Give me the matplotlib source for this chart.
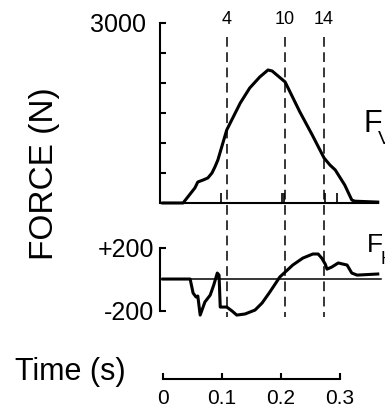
import matplotlib
matplotlib.use("Agg")
import matplotlib.pyplot as plt
from matplotlib.transforms import blended_transform_factory

plt.rcParams['font.family'] = ['Liberation Sans', 'DejaVu Sans']
plt.rcParams['lines.scale_dashes'] = False

# ---- data ----
# vertical ground reaction force (N) vs time (s)
fv_time = [0.0, 0.034, 0.042, 0.054, 0.059, 0.068, 0.076, 0.083, 0.088, 0.093,
           0.108, 0.131, 0.147, 0.164, 0.178, 0.185, 0.207, 0.232, 0.253, 0.273,
           0.283, 0.292, 0.308, 0.320, 0.325, 0.364]
fv_force = [0, 0, 100, 250, 350, 383, 417, 500, 600, 717,
            1217, 1667, 1917, 2100, 2217, 2200, 2017, 1517, 1133, 750,
            633, 550, 300, 50, 30, 15]

# horizontal ground reaction force (N) vs time (s)
fh_time = [0.0, 0.046, 0.051, 0.056, 0.059, 0.063, 0.071, 0.080, 0.086, 0.092,
           0.095, 0.097, 0.108, 0.117, 0.125, 0.139, 0.156, 0.168, 0.181, 0.198,
           0.220, 0.237, 0.254, 0.263, 0.269, 0.275, 0.278, 0.286, 0.297, 0.312,
           0.320, 0.329, 0.364]
fh_force = [0, 0, -89, -114, -108, -229, -146, -102, -38, 38,
            25, -178, -178, -203, -229, -222, -197, -152, -83, 13,
            89, 133, 159, 159, 133, 95, 63, 76, 102, 89,
            38, 25, 32]

event_labels = ['4', '10', '14']
event_times = [0.1085, 0.2068, 0.2729]
mark_times = [0.098, 0.202, 0.205, 0.275, 0.295]

fv_ticks = [0, 500, 1000, 1500, 2000, 2500, 3000]
fv_ticklabels = ['', '', '', '', '', '', '3000']
fh_ticks = [-200, 200]
fh_ticklabels = ['-200', '+200']
scale_ticks = [0, 0.1, 0.2, 0.3]
scale_ticklabels = ['0', '0.1', '0.2', '0.3']

# ---- figure ----
W, H = 385, 411
fig = plt.figure(figsize=(W / 100, H / 100), dpi=100)

def px_axes(x0, y0, x1, y1):
    return fig.add_axes([x0 / W, 1 - y1 / H, (x1 - x0) / W, (y1 - y0) / H])

xlim = (-0.0051, 0.3763)
k = 'black'

# top panel: vertical force
ax1 = px_axes(160, 20, 385, 210)
ax1.set_xlim(*xlim)
ax1.set_ylim(-117, 3050)
ax1.plot(fv_time, fv_force, color=k, lw=2.2, solid_joinstyle='round')
ax1.plot([xlim[0], 0.364], [0, 0], color=k, lw=1.5)
ax1.vlines(mark_times, 0, 160, color=k, lw=1.2)
for s in ['top', 'right', 'bottom']:
    ax1.spines[s].set_visible(False)
ax1.spines['left'].set_bounds(0, 3000)
ax1.spines['left'].set_linewidth(1.5)
ax1.set_yticks(fv_ticks)
ax1.set_yticklabels(fv_ticklabels)
ax1.set_xticks([])
ax1.tick_params(axis='y', direction='in', length=4.5, width=1.5, pad=10, labelsize=18)
ax1.patch.set_visible(False)

# bottom panel: horizontal force
ax2 = px_axes(160, 240, 385, 325)
ax2.set_xlim(*xlim)
ax2.set_ylim(-292, 248)
ax2.plot(fh_time, fh_force, color=k, lw=2.2, solid_joinstyle='round')
ax2.plot([xlim[0], 0.37], [0, 0], color=k, lw=1.1)
for s in ['top', 'right', 'bottom']:
    ax2.spines[s].set_visible(False)
ax2.spines['left'].set_bounds(-200, 200)
ax2.spines['left'].set_linewidth(1.5)
ax2.set_yticks(fh_ticks)
ax2.set_yticklabels(fh_ticklabels)
ax2.set_xticks([])
ax2.tick_params(axis='y', direction='in', length=4.5, width=1.5, pad=4, labelsize=18)
ax2.patch.set_visible(False)

# time scale bar
ax3 = px_axes(160, 369, 385, 379)
ax3.set_xlim(*xlim)
for s in ['top', 'right', 'left']:
    ax3.spines[s].set_visible(False)
ax3.spines['bottom'].set_bounds(0, 0.3)
ax3.spines['bottom'].set_linewidth(1.5)
ax3.set_yticks([])
ax3.set_xticks(scale_ticks)
ax3.set_xticklabels(scale_ticklabels)
ax3.tick_params(axis='x', direction='in', length=4.5, width=1.5, pad=7, labelsize=15)
ax3.patch.set_visible(False)

# dashed event lines across both panels
tr = blended_transform_factory(ax1.transData, fig.transFigure)
for t, lab in zip(event_times, event_labels):
    ax1.plot([t, t], [1 - 37 / H, 1 - 317 / H], transform=tr, color=k, lw=1.1,
             dashes=(7, 4), clip_on=False)
    ax1.text(t, 1 - 20 / H, lab, transform=tr, ha='center', va='center', fontsize=13)

# labels
fig.text(45 / W, 1 - 174 / H, 'FORCE (N)', rotation=90, ha='center', va='center', fontsize=24)
fig.text(70 / W, 1 - 372 / H, 'Time (s)', ha='center', va='center', fontsize=22)
fig.text(363 / W, 1 - 132 / H, 'F', ha='left', va='baseline', fontsize=22)
fig.text(378 / W, 1 - 131 / H, 'V', ha='left', va='top', fontsize=14)
fig.text(367 / W, 1 - 252 / H, 'F', ha='left', va='baseline', fontsize=19)
fig.text(381 / W, 1 - 251 / H, 'H', ha='left', va='top', fontsize=13)

fig.savefig('out.png', dpi=100)
